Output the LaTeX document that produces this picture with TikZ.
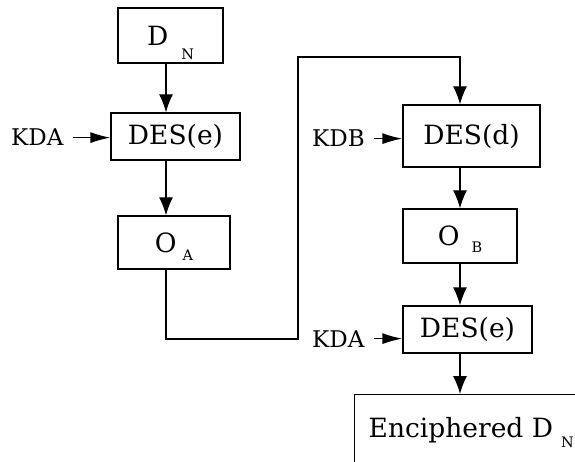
\documentclass[tikz,border=0pt]{standalone}
\usepackage{fontspec}
\setmainfont{DejaVu Serif}
\usetikzlibrary{arrows.meta}

% lowered index letter: #1 gap, #2 drop, #3 letter
\newcommand\lowidx[3]{\hspace{#1}\smash{\raisebox{-#2}{\fontsize{14.5}{14.5}\selectfont #3}}}

\tikzset{
  box/.style={draw, line width=1.3pt, inner sep=0pt, font=\fontsize{26.5}{30}\selectfont},
  keylabel/.style={anchor=base west, inner sep=0pt, font=\fontsize{23}{27}\selectfont},
  flow/.style={line width=1.3pt, -{Latex[length=18pt,width=14pt]}},
  keyin/.style={line width=1.3pt, shorten <=9pt, -{Latex[length=20pt,width=11pt]}},
}

\begin{document}
\begin{tikzpicture}[x=1pt,y=-1pt]
\clip (0,0) rectangle (575,462);
\fill[white] (0,0) rectangle (575,462);

% columns of the vertical connectors and the corners of the crossover
\coordinate (lx) at (166,0);
\coordinate (rx) at (460,0);
\coordinate (low) at (298,339);
\coordinate (high) at (298,57);

% left chain
\node[box, minimum width=105pt, minimum height=55pt] (dn) at (170.5,35.5) {D\lowidx{13pt}{14pt}{N}};
\node[box, minimum width=129pt, minimum height=47pt] (dese1) at (175.5,136.5) {DES(e)};
\node[box, minimum width=112pt, minimum height=53pt] (oa) at (174,242.5) {O\lowidx{6pt}{8pt}{A}};

% right chain
\node[box, minimum width=137pt, minimum height=62pt] (desd) at (471.5,136) {DES(d)};
\node[box, minimum width=114pt, minimum height=54pt] (ob) at (460,236) {O\lowidx{12pt}{7pt}{B}};
\node[box, minimum width=129pt, minimum height=47pt] (dese2) at (467.5,329.5) {DES(e)};
\node[box, anchor=north west, inner xsep=14pt, inner ysep=22.5pt, text height=20.5pt, text depth=40pt]
  (enc) at (354,394) {Enciphered D\lowidx{8pt}{10pt}{N}};

% key inputs
\node[keylabel] (kda1) at (11,146) {KDA};
\node[keylabel] (kdb) at (312,147) {KDB};
\node[keylabel] (kda2) at (312,347) {KDA};

\draw[keyin] (kda1.east) -- (kda1.east -| dese1.west);
\draw[keyin] (kdb.east) -- (kdb.east -| desd.west);
\draw[keyin] (kda2.east) -- (kda2.east -| dese2.west);

% data flow
\draw[flow] (dn.south -| lx) -- (dese1.north -| lx);
\draw[flow] (dese1.south -| lx) -- (oa.north -| lx);
\draw[flow] (oa.south -| lx) -- (lx |- low) -- (low) -- (high) -- (rx |- high) -- (desd.north -| rx);
\draw[flow] (desd.south -| rx) -- (ob.north -| rx);
\draw[flow] (ob.south -| rx) -- (dese2.north -| rx);
\draw[flow] (dese2.south -| rx) -- (enc.north -| rx);
\end{tikzpicture}
\end{document}
